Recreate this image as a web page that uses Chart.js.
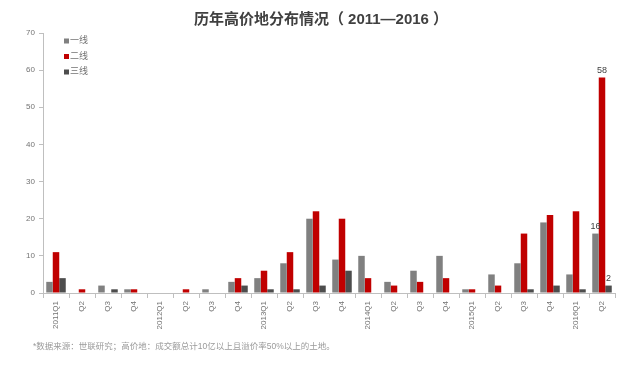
<!DOCTYPE html>
<html>
<head>
<meta charset="utf-8">
<script src="https://cdn.jsdelivr.net/npm/chart.js"></script>
<style>
  html, body { margin: 0; padding: 0; background: #fff; }
  #wrap { width: 640px; height: 369px; position: relative; }
</style>
</head>
<body>
<div id="wrap"><canvas id="chart"></canvas></div>
<script>
// quarters 2011Q1 .. 2016Q2
const quarters = [
  '2011Q1', 'Q2', 'Q3', 'Q4',
  '2012Q1', 'Q2', 'Q3', 'Q4',
  '2013Q1', 'Q2', 'Q3', 'Q4',
  '2014Q1', 'Q2', 'Q3', 'Q4',
  '2015Q1', 'Q2', 'Q3', 'Q4',
  '2016Q1', 'Q2',
];
const tier1 = [3, 0, 2, 1, 0, 0, 1, 3, 4, 8, 20, 9, 10, 3, 6, 10, 1, 5, 8, 19, 5, 16];
const tier2 = [11, 1, 0, 1, 0, 1, 0, 4, 6, 11, 22, 20, 4, 2, 3, 4, 1, 2, 16, 21, 22, 58];
const tier3 = [4, 0, 1, 0, 0, 0, 0, 2, 1, 1, 2, 6, 0, 0, 0, 0, 0, 0, 1, 2, 1, 2];
const seriesNames = ['一线', '二线', '三线'];
const yTicks = [0, 10, 20, 30, 40, 50, 60, 70];
const labelledQuarter = 21; // only the last quarter carries value labels

const titleText = '历年高价地分布情况（ 2011—2016 ）';
const noteText = '*数据来源：世联研究；高价地：成交额总计10亿以上且溢价率50%以上的土地。';

const colors = ['#808080', '#c00000', '#4d4d4d'];
const fontFamily = '"Liberation Sans", "Noto Sans CJK SC", sans-serif';
const textColor = '#737373';

// extra drawing: title, legend, rotated x labels, value labels, footnote
const decorations = {
  id: 'decorations',
  afterDraw(chart) {
    const { ctx, scales } = chart;
    const x = scales.x;
    ctx.save();

    // title
    ctx.fillStyle = '#404040';
    ctx.font = 'bold 15px ' + fontFamily;
    ctx.textAlign = 'center';
    ctx.textBaseline = 'middle';
    ctx.fillText(titleText, 321, 20);

    // legend
    ctx.font = '9px ' + fontFamily;
    ctx.textAlign = 'left';
    seriesNames.forEach((name, i) => {
      const y = 41 + i * 15.5;
      ctx.fillStyle = colors[i];
      ctx.fillRect(64, y - 2.5, 5, 5);
      ctx.fillStyle = textColor;
      ctx.fillText(name, 70, y);
    });

    // x labels, rotated to read bottom-up
    ctx.font = '8px ' + fontFamily;
    ctx.fillStyle = textColor;
    ctx.textAlign = 'right';
    ctx.textBaseline = 'middle';
    quarters.forEach((q, i) => {
      ctx.save();
      ctx.translate(x.getPixelForTick(i), 301);
      ctx.rotate(-Math.PI / 2);
      ctx.fillText(q, 0, 0);
      ctx.restore();
    });

    // value labels on the last quarter
    ctx.font = '9px ' + fontFamily;
    ctx.textAlign = 'center';
    ctx.textBaseline = 'bottom';
    ctx.fillStyle = '#404040';
    chart.data.datasets.forEach((ds, i) => {
      const bar = chart.getDatasetMeta(i).data[labelledQuarter];
      ctx.fillText(String(ds.data[labelledQuarter]), bar.x, bar.y - 3);
    });

    // footnote
    ctx.font = '8.5px ' + fontFamily;
    ctx.fillStyle = '#9a9a9a';
    ctx.textAlign = 'left';
    ctx.textBaseline = 'middle';
    ctx.fillText(noteText, 33, 347);

    ctx.restore();
  }
};

new Chart(document.getElementById('chart'), {
  type: 'bar',
  data: {
    labels: quarters,
    datasets: [tier1, tier2, tier3].map((d, i) => ({
      label: seriesNames[i],
      data: d,
      backgroundColor: colors[i],
      borderWidth: 0,
      categoryPercentage: 0.75,
      barPercentage: 1,
    })),
  },
  options: {
    responsive: true,
    maintainAspectRatio: false,
    animation: false,
    layout: { padding: { top: 33, right: 25, left: 0, bottom: 0 } },
    plugins: {
      legend: { display: false },
      title: { display: false },
      tooltip: { enabled: false },
    },
    scales: {
      x: {
        grid: {
          offset: true,
          drawOnChartArea: false,
          drawTicks: true,
          tickLength: 5,
          color: '#bfbfbf',
        },
        border: { color: '#bfbfbf' },
        ticks: { display: false },
        afterFit(scale) { scale.height = 76; },
      },
      y: {
        min: 0,
        max: 70,
        afterBuildTicks(scale) { scale.ticks = yTicks.map(v => ({ value: v })); },
        grid: {
          drawOnChartArea: false,
          drawTicks: true,
          tickLength: 4,
          color: '#bfbfbf',
        },
        border: { color: '#bfbfbf' },
        ticks: {
          color: textColor,
          font: { size: 8, family: fontFamily },
          padding: 4,
        },
        afterFit(scale) { scale.width = 43; },
      },
    },
  },
  plugins: [decorations],
});
</script>
</body>
</html>
